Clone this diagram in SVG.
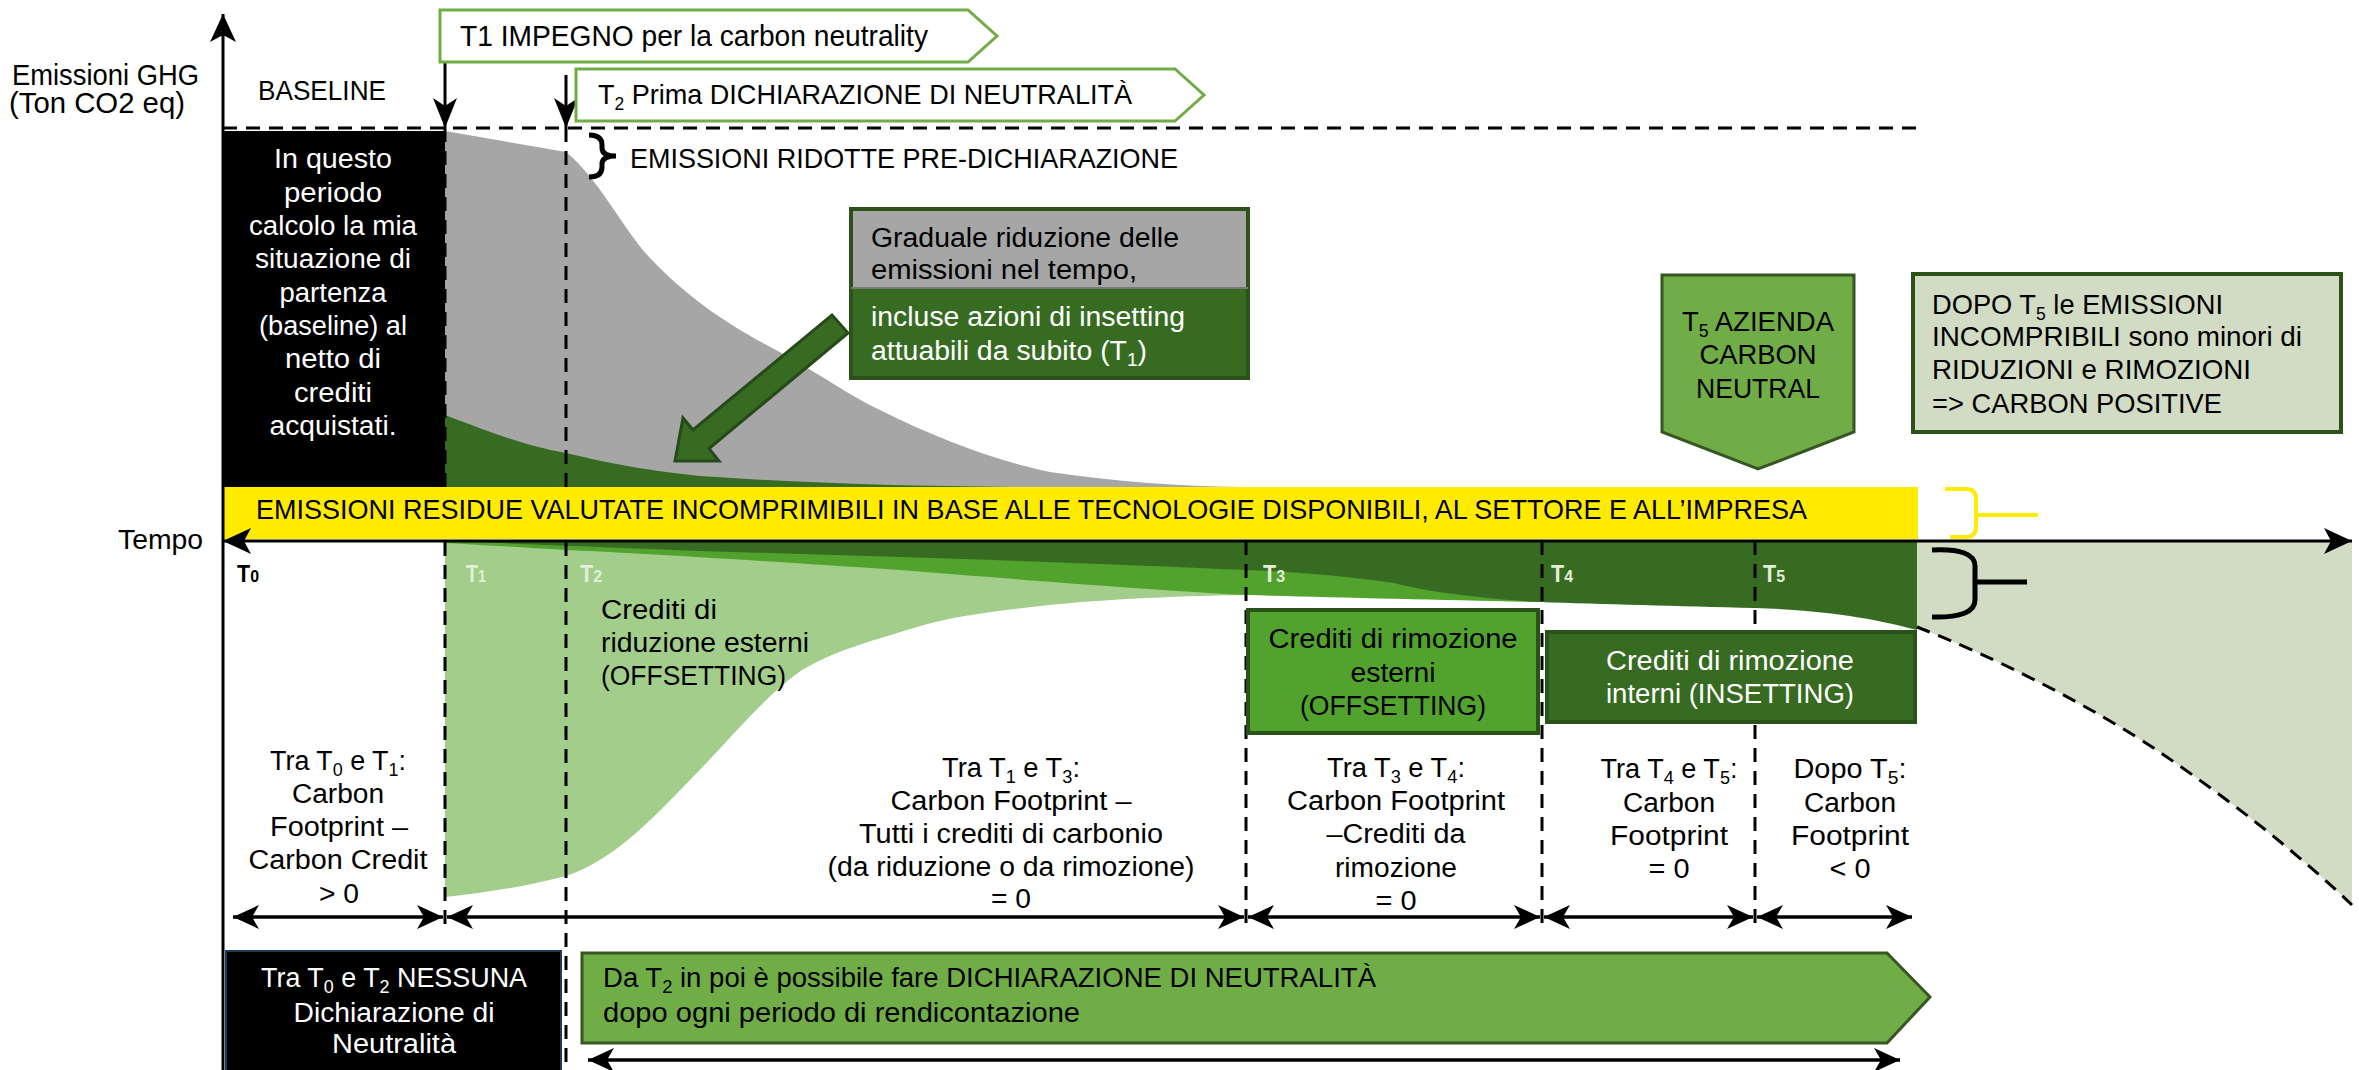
<svg xmlns="http://www.w3.org/2000/svg" width="2359" height="1070" viewBox="0 0 2359 1070">
<defs>
<style>
text{font-family:"Liberation Sans",Arial,sans-serif;fill:#000}
.f25{font-size:27px}
.f26{font-size:28px}
.f28{font-size:29px}
.wt{fill:#fff}
.mid{text-anchor:middle}
.sub{font-size:18px}
.tk{font-size:23px;font-weight:bold}
.tkd{font-size:17px}
.lt{fill:#e2f0d8}
.dash{stroke:#000;stroke-width:3;stroke-dasharray:14 9;fill:none}
.dim{stroke:#000;stroke-width:3.5;fill:none;marker-start:url(#ah);marker-end:url(#ah)}
.penta{fill:#fff;stroke:#70ad47;stroke-width:3}
.dg{fill:#386b22}
</style>
<marker id="ah" markerUnits="userSpaceOnUse" markerWidth="26" markerHeight="24" viewBox="0 0 26 24" refX="26" refY="12" orient="auto-start-reverse"><path d="M0,0 L26,12 L0,24 L7,12 Z" fill="#000"/></marker>
<marker id="axh" markerUnits="userSpaceOnUse" markerWidth="28" markerHeight="26" viewBox="0 0 28 26" refX="28" refY="13" orient="auto-start-reverse"><path d="M0,0 L28,13 L0,26 L7,13 Z" fill="#000"/></marker>
<marker id="as" markerUnits="userSpaceOnUse" markerWidth="30" markerHeight="24" viewBox="0 0 30 24" refX="30" refY="12" orient="auto"><path d="M0,0 L30,12 L0,24 L8,12 Z" fill="#000"/></marker>
</defs>
<rect width="2359" height="1070" fill="#fff"/>

<g id="areas">
<path d="M445,131 L566,152 C600,180 622,228 650,258 C690,300 730,326 776,350 C820,374 850,396 880,410 C940,440 1000,462 1050,472 C1120,482 1180,486 1240,487 L445,487 Z" fill="#a6a6a6"/>
<path class="dg" d="M445,415 C500,436 530,447 566,453 C600,461 640,470 700,476 C800,483 900,486 1010,487 L445,487 Z"/>
<path d="M445,541 L1246,541 L1246,595 C1170,596 1090,600 1031,607 C990,612 950,617 917,627 C875,640 835,650 802,670 C765,695 725,745 687,783 C650,822 610,862 566,876 C520,888 480,893 445,897 Z" fill="#a3cd8b"/>
<path d="M445,541 L1540,541 L1540,602 C1450,600 1320,597 1246,595 C1150,590 1000,578 900,570 C750,560 620,552 566,550 C520,547 480,545 445,543 Z" fill="#52a32d"/>
<path class="dg" d="M445,541 L1917,541 L1917,630 C1880,620 1830,610 1755,608 C1680,606 1600,604 1540,602 C1470,598 1420,590 1394,583 C1340,575 1280,571 1246,570 C1100,563 900,557 700,551 C600,547 500,543 445,541 Z"/>
<path d="M1917,541 L2352,541 L2352,905 C2300,855 2230,800 2161,753 C2090,705 1990,655 1917,627 Z" fill="#d2dbc3"/>
</g>

<g id="baseline-box">
<rect x="223" y="131" width="222" height="356" fill="#000"/>
<text class="f25 wt mid" x="333" y="168" textLength="118" lengthAdjust="spacingAndGlyphs">In questo</text>
<text class="f25 wt mid" x="333" y="202" textLength="98" lengthAdjust="spacingAndGlyphs">periodo</text>
<text class="f25 wt mid" x="333" y="235" textLength="168" lengthAdjust="spacingAndGlyphs">calcolo la mia</text>
<text class="f25 wt mid" x="333" y="268" textLength="156" lengthAdjust="spacingAndGlyphs">situazione di</text>
<text class="f25 wt mid" x="333" y="302" textLength="107" lengthAdjust="spacingAndGlyphs">partenza</text>
<text class="f25 wt mid" x="333" y="335" textLength="148" lengthAdjust="spacingAndGlyphs">(baseline) al</text>
<text class="f25 wt mid" x="333" y="368" textLength="96" lengthAdjust="spacingAndGlyphs">netto di</text>
<text class="f25 wt mid" x="333" y="402" textLength="78" lengthAdjust="spacingAndGlyphs">crediti</text>
<text class="f25 wt mid" x="333" y="435" textLength="127" lengthAdjust="spacingAndGlyphs">acquistati.</text>
</g>

<g id="legend-box">
<rect x="851" y="209" width="397" height="79" fill="#a6a6a6"/>
<rect x="851" y="288" width="397" height="90" fill="#386b22"/>
<rect x="851" y="209" width="397" height="169" fill="none" stroke="#2b5219" stroke-width="4"/>
<line x1="851" y1="288" x2="1248" y2="288" stroke="#7a7a7a" stroke-width="2"/>
<text class="f25" x="871" y="247" textLength="308" lengthAdjust="spacingAndGlyphs">Graduale riduzione delle</text>
<text class="f25" x="871" y="279" textLength="266" lengthAdjust="spacingAndGlyphs">emissioni nel tempo,</text>
<text class="f25 wt" x="871" y="326" textLength="314" lengthAdjust="spacingAndGlyphs">incluse azioni di insetting</text>
<text class="f25 wt" x="871" y="360" textLength="276" lengthAdjust="spacingAndGlyphs">attuabili da subito (T<tspan class="sub" dy="6">1</tspan><tspan dy="-6">)</tspan></text>
</g>

<g id="reduction-arrow">
<polygon points="675,461 719,461 709,448.5 848,333 832,315 693,430 683,418" fill="#386b22" stroke="#26491a" stroke-width="3" stroke-linejoin="miter"/>
</g>

<g id="connectors">
<line class="dash" x1="223" y1="128" x2="1918" y2="128"/>
<line class="dash" x1="445" y1="128" x2="445" y2="932"/>
<line class="dash" x1="566" y1="128" x2="566" y2="1070"/>
<line class="dash" x1="1246" y1="541" x2="1246" y2="930"/>
<line class="dash" x1="1542" y1="541" x2="1542" y2="930"/>
<line class="dash" x1="1755" y1="541" x2="1755" y2="930"/>
<path class="dash" d="M1917,627 C1990,655 2090,705 2161,753 C2230,800 2300,855 2352,905"/>
<line x1="445" y1="62" x2="445" y2="128" stroke="#000" stroke-width="3" marker-end="url(#as)"/>
<line x1="566" y1="75" x2="566" y2="128" stroke="#000" stroke-width="3" marker-end="url(#as)"/>
<line class="dim" x1="233" y1="917" x2="443" y2="917"/>
<line class="dim" x1="447" y1="917" x2="1244" y2="917"/>
<line class="dim" x1="1248" y1="917" x2="1540" y2="917"/>
<line class="dim" x1="1544" y1="917" x2="1753" y2="917"/>
<line class="dim" x1="1757" y1="917" x2="1912" y2="917"/>
<line class="dim" x1="588" y1="1060" x2="1900" y2="1060"/>
</g>

<g id="residual-bar">
<rect x="223" y="487" width="1695" height="52" fill="#ffeb00"/>
<text class="f26" x="256" y="519" textLength="1551" lengthAdjust="spacingAndGlyphs">EMISSIONI RESIDUE VALUTATE INCOMPRIMIBILI IN BASE ALLE TECNOLOGIE DISPONIBILI, AL SETTORE E ALL’IMPRESA</text>
<path d="M1945,489 L1966,489 Q1976,489 1976,499 L1976,527 Q1976,537 1966,537 L1950,537 M1976,515 L2038,515" fill="none" stroke="#ffeb00" stroke-width="4"/>
</g>

<g id="axes">
<line x1="223" y1="1070" x2="223" y2="14" stroke="#000" stroke-width="3" marker-end="url(#axh)"/>
<line x1="223" y1="541" x2="2352" y2="541" stroke="#000" stroke-width="3" marker-start="url(#axh)" marker-end="url(#axh)"/>
<text class="f28" x="12" y="85" textLength="187" lengthAdjust="spacingAndGlyphs">Emissioni GHG</text>
<text class="f28" x="9" y="113" textLength="176" lengthAdjust="spacingAndGlyphs">(Ton CO2 eq)</text>
<text class="f26" x="118" y="549" textLength="85" lengthAdjust="spacingAndGlyphs">Tempo</text>
<text class="f25" x="258" y="100" textLength="128" lengthAdjust="spacingAndGlyphs">BASELINE</text>
<text class="tk" x="237" y="582" textLength="22" lengthAdjust="spacingAndGlyphs">T<tspan class="tkd">0</tspan></text>
<text class="tk lt" x="466" y="582" textLength="20" lengthAdjust="spacingAndGlyphs">T<tspan class="tkd">1</tspan></text>
<text class="tk lt" x="580" y="582" textLength="22" lengthAdjust="spacingAndGlyphs">T<tspan class="tkd">2</tspan></text>
<text class="tk lt" x="1263" y="582" textLength="22" lengthAdjust="spacingAndGlyphs">T<tspan class="tkd">3</tspan></text>
<text class="tk lt" x="1551" y="582" textLength="22" lengthAdjust="spacingAndGlyphs">T<tspan class="tkd">4</tspan></text>
<text class="tk lt" x="1763" y="582" textLength="22" lengthAdjust="spacingAndGlyphs">T<tspan class="tkd">5</tspan></text>
</g>

<g id="t1-box">
<path class="penta" d="M440,10 L968,10 L997,36 L968,62 L440,62 Z"/>
<text class="f28" x="460" y="46" textLength="468" lengthAdjust="spacingAndGlyphs">T1 IMPEGNO per la carbon neutrality</text>
</g>

<g id="t2-box">
<path class="penta" d="M576,69 L1175,69 L1204,95 L1175,121 L576,121 Z"/>
<text class="f26" x="598" y="104" textLength="534" lengthAdjust="spacingAndGlyphs">T<tspan class="sub" dy="6">2</tspan><tspan dy="-6"> Prima DICHIARAZIONE DI NEUTRALITÀ</tspan></text>
</g>

<g id="reduced-emissions">
<path d="M589,135 Q602,135 602,145 L602,148 Q602,156 616,156 Q602,156 602,164 L602,167 Q602,177 589,177" fill="none" stroke="#000" stroke-width="5"/>
<text class="f26" x="630" y="168" textLength="548" lengthAdjust="spacingAndGlyphs">EMISSIONI RIDOTTE PRE-DICHIARAZIONE</text>
</g>

<g id="t5-box">
<path d="M1662,275 L1854,275 L1854,432 L1758,469 L1662,432 Z" fill="#70ad47" stroke="#375623" stroke-width="3"/>
<text class="f26 mid" x="1758" y="331" textLength="152" lengthAdjust="spacingAndGlyphs">T<tspan class="sub" dy="6">5</tspan><tspan dy="-6"> AZIENDA</tspan></text>
<text class="f26 mid" x="1758" y="364" textLength="117" lengthAdjust="spacingAndGlyphs">CARBON</text>
<text class="f26 mid" x="1758" y="398" textLength="124" lengthAdjust="spacingAndGlyphs">NEUTRAL</text>
</g>

<g id="dopo-box">
<rect x="1913" y="274" width="428" height="158" fill="#d2dbc3" stroke="#2b5219" stroke-width="4"/>
<text class="f26" x="1932" y="314" textLength="291" lengthAdjust="spacingAndGlyphs">DOPO T<tspan class="sub" dy="6">5</tspan><tspan dy="-6"> le EMISSIONI</tspan></text>
<text class="f26" x="1932" y="346" textLength="370" lengthAdjust="spacingAndGlyphs">INCOMPRIBILI sono minori di</text>
<text class="f26" x="1932" y="379" textLength="319" lengthAdjust="spacingAndGlyphs">RIDUZIONI e RIMOZIONI</text>
<text class="f26" x="1932" y="413" textLength="290" lengthAdjust="spacingAndGlyphs">=&gt; CARBON POSITIVE</text>
</g>

<g id="negative-brace">
<path d="M1932,550 Q1975,548 1975,566 L1975,600 Q1975,618 1932,617 M1975,582 L2027,582" fill="none" stroke="#000" stroke-width="5"/>
</g>

<g id="offset-reduction-label">
<text class="f25" x="601" y="619" textLength="116" lengthAdjust="spacingAndGlyphs">Crediti di</text>
<text class="f25" x="601" y="652" textLength="208" lengthAdjust="spacingAndGlyphs">riduzione esterni</text>
<text class="f25" x="601" y="685" textLength="185" lengthAdjust="spacingAndGlyphs">(OFFSETTING)</text>
</g>

<g id="offset-removal-box">
<rect x="1248" y="610" width="290" height="123" fill="#52a32d" stroke="#2b5219" stroke-width="4"/>
<text class="f25 mid" x="1393" y="648" textLength="249" lengthAdjust="spacingAndGlyphs">Crediti di rimozione</text>
<text class="f25 mid" x="1393" y="682" textLength="85" lengthAdjust="spacingAndGlyphs">esterni</text>
<text class="f25 mid" x="1393" y="715" textLength="186" lengthAdjust="spacingAndGlyphs">(OFFSETTING)</text>
</g>

<g id="inset-removal-box">
<rect x="1547" y="632" width="368" height="90" fill="#386b22" stroke="#2b5219" stroke-width="4"/>
<text class="f25 wt mid" x="1730" y="670" textLength="248" lengthAdjust="spacingAndGlyphs">Crediti di rimozione</text>
<text class="f25 wt mid" x="1730" y="703" textLength="248" lengthAdjust="spacingAndGlyphs">interni (INSETTING)</text>
</g>

<g id="period-t0-t1">
<text class="f25 mid" x="338" y="770" textLength="136" lengthAdjust="spacingAndGlyphs">Tra T<tspan class="sub" dy="6">0</tspan><tspan dy="-6"> e T</tspan><tspan class="sub" dy="6">1</tspan><tspan dy="-6">:</tspan></text>
<text class="f25 mid" x="338" y="803" textLength="92" lengthAdjust="spacingAndGlyphs">Carbon</text>
<text class="f25 mid" x="339" y="836" textLength="138" lengthAdjust="spacingAndGlyphs">Footprint –</text>
<text class="f25 mid" x="338" y="869" textLength="179" lengthAdjust="spacingAndGlyphs">Carbon Credit</text>
<text class="f25 mid" x="339" y="903" textLength="40" lengthAdjust="spacingAndGlyphs">&gt; 0</text>
</g>

<g id="period-t1-t3">
<text class="f25 mid" x="1011" y="777" textLength="138" lengthAdjust="spacingAndGlyphs">Tra T<tspan class="sub" dy="6">1</tspan><tspan dy="-6"> e T</tspan><tspan class="sub" dy="6">3</tspan><tspan dy="-6">:</tspan></text>
<text class="f25 mid" x="1011" y="810" textLength="241" lengthAdjust="spacingAndGlyphs">Carbon Footprint –</text>
<text class="f25 mid" x="1011" y="843" textLength="304" lengthAdjust="spacingAndGlyphs">Tutti i crediti di carbonio</text>
<text class="f25 mid" x="1011" y="876" textLength="367" lengthAdjust="spacingAndGlyphs">(da riduzione o da rimozione)</text>
<text class="f25 mid" x="1011" y="908" textLength="40" lengthAdjust="spacingAndGlyphs">= 0</text>
</g>

<g id="period-t3-t4">
<text class="f25 mid" x="1396" y="777" textLength="138" lengthAdjust="spacingAndGlyphs">Tra T<tspan class="sub" dy="6">3</tspan><tspan dy="-6"> e T</tspan><tspan class="sub" dy="6">4</tspan><tspan dy="-6">:</tspan></text>
<text class="f25 mid" x="1396" y="810" textLength="218" lengthAdjust="spacingAndGlyphs">Carbon Footprint</text>
<text class="f25 mid" x="1396" y="843" textLength="139" lengthAdjust="spacingAndGlyphs">–Crediti da</text>
<text class="f25 mid" x="1396" y="877" textLength="122" lengthAdjust="spacingAndGlyphs">rimozione</text>
<text class="f25 mid" x="1396" y="910" textLength="41" lengthAdjust="spacingAndGlyphs">= 0</text>
</g>

<g id="period-t4-t5">
<text class="f25 mid" x="1669" y="778" textLength="137" lengthAdjust="spacingAndGlyphs">Tra T<tspan class="sub" dy="6">4</tspan><tspan dy="-6"> e T</tspan><tspan class="sub" dy="6">5</tspan><tspan dy="-6">:</tspan></text>
<text class="f25 mid" x="1669" y="812" textLength="92" lengthAdjust="spacingAndGlyphs">Carbon</text>
<text class="f25 mid" x="1669" y="845" textLength="118" lengthAdjust="spacingAndGlyphs">Footprint</text>
<text class="f25 mid" x="1669" y="878" textLength="41" lengthAdjust="spacingAndGlyphs">= 0</text>
</g>

<g id="period-after-t5">
<text class="f25 mid" x="1850" y="778" textLength="113" lengthAdjust="spacingAndGlyphs">Dopo T<tspan class="sub" dy="6">5</tspan><tspan dy="-6">:</tspan></text>
<text class="f25 mid" x="1850" y="812" textLength="92" lengthAdjust="spacingAndGlyphs">Carbon</text>
<text class="f25 mid" x="1850" y="845" textLength="118" lengthAdjust="spacingAndGlyphs">Footprint</text>
<text class="f25 mid" x="1850" y="878" textLength="41" lengthAdjust="spacingAndGlyphs">&lt; 0</text>
</g>

<g id="no-declaration-box">
<rect x="226" y="951" width="335" height="125" fill="#000" stroke="#1f3b57" stroke-width="2"/>
<text class="f25 wt mid" x="394" y="987" textLength="266" lengthAdjust="spacingAndGlyphs">Tra T<tspan class="sub" dy="6">0</tspan><tspan dy="-6"> e T</tspan><tspan class="sub" dy="6">2</tspan><tspan dy="-6"> NESSUNA</tspan></text>
<text class="f25 wt mid" x="394" y="1022" textLength="201" lengthAdjust="spacingAndGlyphs">Dichiarazione di</text>
<text class="f25 wt mid" x="394" y="1053" textLength="124" lengthAdjust="spacingAndGlyphs">Neutralità</text>
</g>

<g id="declaration-box">
<path d="M582,953 L1887,953 L1930,997 L1887,1043 L582,1043 Z" fill="#70ad47" stroke="#375623" stroke-width="3"/>
<text class="f25" x="603" y="987" textLength="773" lengthAdjust="spacingAndGlyphs">Da T<tspan class="sub" dy="6">2</tspan><tspan dy="-6"> in poi è possibile fare DICHIARAZIONE DI NEUTRALITÀ</tspan></text>
<text class="f25" x="603" y="1022" textLength="477" lengthAdjust="spacingAndGlyphs">dopo ogni periodo di rendicontazione</text>
</g>
</svg>
